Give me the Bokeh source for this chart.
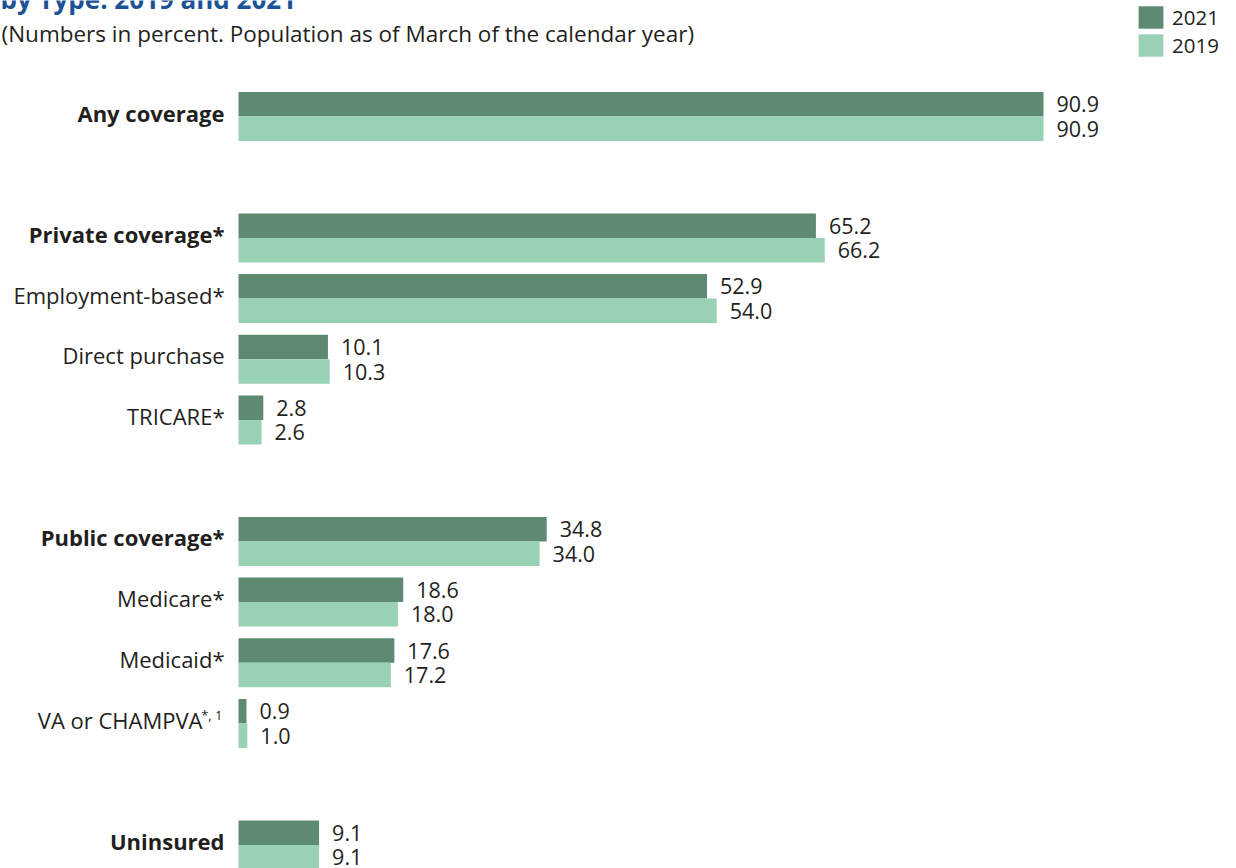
from bokeh.plotting import figure
from bokeh.models import Range1d, ColumnDataSource, Label, Legend, LegendItem
from bokeh.transform import dodge
from bokeh.core.properties import value
from bokeh.embed import file_html
from bokeh.resources import INLINE

# ---- data ----
groups = [
    ["Any coverage"],
    ["Private coverage*", "Employment-based*", "Direct purchase", "TRICARE*"],
    ["Public coverage*", "Medicare*", "Medicaid*", "VA or CHAMPVA"],
    ["Uninsured"],
]
bold_labels = ["Any coverage", "Private coverage*", "Public coverage*", "Uninsured"]
superscripts = {"VA or CHAMPVA": "*, 1"}
v2021 = [90.9, 65.2, 52.9, 10.1, 2.8, 34.8, 18.6, 17.6, 0.9, 9.1]
v2019 = [90.9, 66.2, 54.0, 10.3, 2.6, 34.0, 18.0, 17.2, 1.0, 9.1]
years = ["2021", "2019"]
title_text = "by Type: 2019 and 2021"
subtitle_text = "(Numbers in percent. Population as of March of the calendar year)"

DARK = "#5e8a72"
LIGHT = "#99d1b5"
TXT = "#231f20"
FONT = "Open Sans"

# build row index (one blank row between groups)
cats, rows = [], []
r = 0
for gi, g in enumerate(groups):
    for c in g:
        cats.append(c)
        rows.append(r)
        r += 1
    r += 1

src = ColumnDataSource(dict(
    cat=cats, row=rows, v2021=v2021, v2019=v2019,
    l2021=[f"{v:.1f}" for v in v2021], l2019=[f"{v:.1f}" for v in v2019],
    zero=[0] * len(cats),
    style=["bold" if c in bold_labels else "normal" for c in cats],
    sup=[superscripts.get(c, "") for c in cats],
    main_off=[-36 if c in superscripts else -14 for c in cats],
))

W, H = 1236, 868
ZERO_PX = 238
PX_PER_UNIT = 8.856
ROW0_PX = 116
ROW_PX = 60.7
BAR_H = 24.5 / ROW_PX

p = figure(width=W, height=H, output_backend="svg", toolbar_location=None,
           x_range=Range1d(-ZERO_PX / PX_PER_UNIT, (W - ZERO_PX) / PX_PER_UNIT),
           y_range=Range1d((H - ROW0_PX) / ROW_PX, -ROW0_PX / ROW_PX),
           min_border=0, background_fill_color="white", border_fill_color="white")
p.axis.visible = False
p.xgrid.visible = False
p.ygrid.visible = False
p.outline_line_color = None

r1 = p.hbar(y=dodge("row", -BAR_H / 2), right="v2021", left=0, height=BAR_H,
            source=src, fill_color=DARK, line_color=None)
r2 = p.hbar(y=dodge("row", BAR_H / 2), right="v2019", left=0, height=BAR_H,
            source=src, fill_color=LIGHT, line_color=None)

vals = dict(text_font=value(FONT), text_font_size="21.5px", text_color=TXT,
            text_baseline="middle")
p.text(x="v2021", y=dodge("row", -BAR_H / 2), text="l2021", x_offset=13,
       source=src, text_align="left", **vals)
p.text(x="v2019", y=dodge("row", BAR_H / 2), text="l2019", x_offset=13,
       source=src, text_align="left", **vals)

# category labels
p.text(x="zero", y="row", text="cat", x_offset="main_off", y_offset=-4,
       source=src, text_align="right", text_font_style="style",
       text_font=value(FONT), text_font_size="22px", text_color=TXT,
       text_baseline="middle")
p.text(x="zero", y="row", text="sup", x_offset=-16, y_offset=-9, source=src,
       text_align="right", text_font=value(FONT), text_font_size="13px",
       text_color=TXT, text_baseline="middle")

# title & subtitle
p.add_layout(Label(x=0, y=H + 2, x_units="screen", y_units="screen",
                   text=title_text, text_font=FONT, text_font_size="26px",
                   text_font_style="bold", text_color="#1d5296",
                   text_baseline="alphabetic"))
p.add_layout(Label(x=1, y=H - 33, x_units="screen", y_units="screen",
                   text=subtitle_text, text_font=FONT, text_font_size="22.5px",
                   text_color=TXT, text_baseline="middle"))

legend = Legend(items=[LegendItem(label=years[0], renderers=[r1]),
                       LegendItem(label=years[1], renderers=[r2])],
                location=(1135, H - 59), orientation="vertical",
                glyph_width=31, glyph_height=28, label_height=28, spacing=0,
                label_standoff=6, padding=0, margin=0,
                border_line_color=None, background_fill_alpha=0,
                label_text_font=FONT, label_text_font_size="20.5px",
                label_text_color=TXT, label_text_baseline="middle")
p.add_layout(legend)

open("out.html", "w").write(file_html(p, INLINE))
